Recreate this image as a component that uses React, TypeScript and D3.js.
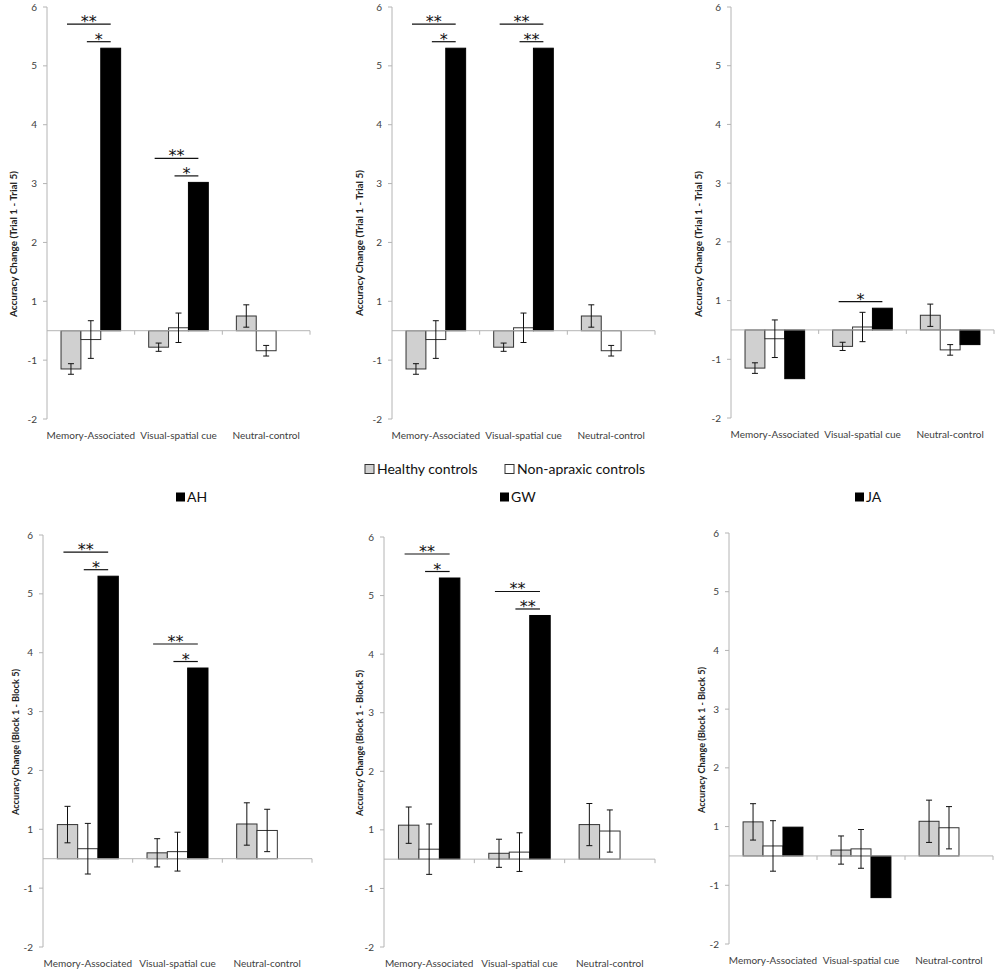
import React from 'react';
import * as d3 from 'd3';

const CATEGORIES = ['Memory-Associated', 'Visual-spatial cue', 'Neutral-control'];
const SERIES = ['Healthy controls', 'Non-apraxic controls', 'Patient'];

// the y axis of the original is offset by half a unit: the zero line sits between "1" and "-1"
const Y_TICK_VALUES = [5.5, 4.5, 3.5, 2.5, 1.5, 0.5, -0.5, -1.5];
const Y_TICK_LABELS = ['6', '5', '4', '3', '2', '1', '-1', '-2'];

const TRIAL_LABEL = 'Accuracy Change (Trial 1 - Trial 5)';
const BLOCK_LABEL = 'Accuracy Change (Block 1 - Block 5)';

// controls, trial measure
const TRIAL_HEALTHY = [-0.65, -0.28, 0.25];
const TRIAL_HEALTHY_ERR = [0.09, 0.07, 0.19];
const TRIAL_NONAPRAXIC = [-0.15, 0.05, -0.34];
const TRIAL_NONAPRAXIC_ERR = [0.32, 0.25, 0.09];

// controls, block measure
const BLOCK_HEALTHY = [0.58, 0.1, 0.59];
const BLOCK_HEALTHY_ERR = [0.31, 0.24, 0.36];
const BLOCK_NONAPRAXIC = [0.17, 0.12, 0.48];
const BLOCK_NONAPRAXIC_ERR = [0.43, 0.33, 0.36];

// patients
const TRIAL_AH = [4.8, 2.52, 0];
const TRIAL_GW = [4.8, 4.8, 0];
const TRIAL_JA = [-0.83, 0.37, -0.25];
const BLOCK_AH = [4.8, 3.24, 0];
const BLOCK_GW = [4.8, 4.16, 0];
const BLOCK_JA = [0.49, -0.71, 0];

type Sig = { cat: number; from: number; stars: string; tier: number };

const TRIAL_AH_SIG: Sig[] = [
  { cat: 0, from: 0, stars: '**', tier: 1 },
  { cat: 0, from: 1, stars: '*', tier: 0 },
  { cat: 1, from: 0, stars: '**', tier: 1 },
  { cat: 1, from: 1, stars: '*', tier: 0 }
];
const TRIAL_GW_SIG: Sig[] = [
  { cat: 0, from: 0, stars: '**', tier: 1 },
  { cat: 0, from: 1, stars: '*', tier: 0 },
  { cat: 1, from: 0, stars: '**', tier: 1 },
  { cat: 1, from: 1, stars: '**', tier: 0 }
];
const TRIAL_JA_SIG: Sig[] = [{ cat: 1, from: 0, stars: '*', tier: 0 }];
const BLOCK_AH_SIG: Sig[] = TRIAL_AH_SIG;
const BLOCK_GW_SIG: Sig[] = TRIAL_GW_SIG;
const BLOCK_JA_SIG: Sig[] = [];

const PANELS = [
  { patient: TRIAL_AH, sig: TRIAL_AH_SIG, healthy: TRIAL_HEALTHY, healthyErr: TRIAL_HEALTHY_ERR, nonap: TRIAL_NONAPRAXIC, nonapErr: TRIAL_NONAPRAXIC_ERR, yLabel: TRIAL_LABEL },
  { patient: TRIAL_GW, sig: TRIAL_GW_SIG, healthy: TRIAL_HEALTHY, healthyErr: TRIAL_HEALTHY_ERR, nonap: TRIAL_NONAPRAXIC, nonapErr: TRIAL_NONAPRAXIC_ERR, yLabel: TRIAL_LABEL },
  { patient: TRIAL_JA, sig: TRIAL_JA_SIG, healthy: TRIAL_HEALTHY, healthyErr: TRIAL_HEALTHY_ERR, nonap: TRIAL_NONAPRAXIC, nonapErr: TRIAL_NONAPRAXIC_ERR, yLabel: TRIAL_LABEL },
  { patient: BLOCK_AH, sig: BLOCK_AH_SIG, healthy: BLOCK_HEALTHY, healthyErr: BLOCK_HEALTHY_ERR, nonap: BLOCK_NONAPRAXIC, nonapErr: BLOCK_NONAPRAXIC_ERR, yLabel: BLOCK_LABEL },
  { patient: BLOCK_GW, sig: BLOCK_GW_SIG, healthy: BLOCK_HEALTHY, healthyErr: BLOCK_HEALTHY_ERR, nonap: BLOCK_NONAPRAXIC, nonapErr: BLOCK_NONAPRAXIC_ERR, yLabel: BLOCK_LABEL },
  { patient: BLOCK_JA, sig: BLOCK_JA_SIG, healthy: BLOCK_HEALTHY, healthyErr: BLOCK_HEALTHY_ERR, nonap: BLOCK_NONAPRAXIC, nonapErr: BLOCK_NONAPRAXIC_ERR, yLabel: BLOCK_LABEL }
];

// pixel layout of each panel
const LAYOUT = [
  { x: 47, w: 263, top: 7, bottom: 419, labelX: 13, labelY: 244 },
  { x: 392, w: 263, top: 7, bottom: 419, labelX: 359, labelY: 243 },
  { x: 731, w: 263, top: 7, bottom: 418, labelX: 698, labelY: 244 },
  { x: 43, w: 269, top: 535, bottom: 947, labelX: 15, labelY: 742 },
  { x: 384, w: 271, top: 537, bottom: 947, labelX: 359, labelY: 743 },
  { x: 729, w: 264, top: 533, bottom: 944, labelX: 701, labelY: 740 }
];

const LEGEND_TOP = [
  { name: 'Healthy controls', fill: '#d0d0d0', x: 365, y: 469 },
  { name: 'Non-apraxic controls', fill: '#ffffff', x: 505, y: 469 }
];
const LEGEND_PATIENTS = [
  { name: 'AH', x: 176, y: 497 },
  { name: 'GW', x: 500, y: 497 },
  { name: 'JA', x: 855, y: 497 }
];

const FILLS = ['#d0d0d0', '#ffffff', '#000000'];
const FONT = 'Lato, "Open Sans", sans-serif';
const AXIS = '#b4b4b4';
const TEXT = '#404040';

function Panel({ p, l }: { p: typeof PANELS[number]; l: typeof LAYOUT[number] }) {
  const x0 = d3.scaleBand().domain(CATEGORIES).range([l.x, l.x + l.w]).paddingInner(0.32).paddingOuter(0.16);
  const x1 = d3.scaleBand().domain(SERIES).range([0, x0.bandwidth()]);
  const y = d3.scaleLinear().domain([-1.5, 5.5]).range([l.bottom, l.top]);
  const bw = x1.bandwidth();

  const rows = CATEGORIES.map((c, i) => ({
    cat: c,
    vals: [p.healthy[i], p.nonap[i], p.patient[i]],
    errs: [p.healthyErr[i], p.nonapErr[i], 0]
  }));

  return (
    <g>
      {/* y axis */}
      <line x1={l.x} x2={l.x} y1={y(5.5)} y2={y(-1.5)} stroke={AXIS} />
      {Y_TICK_VALUES.map((v, i) => (
        <g key={i}>
          <line x1={l.x - 4} x2={l.x} y1={y(v)} y2={y(v)} stroke={AXIS} />
          <text x={l.x - 10} y={y(v)} dy="0.35em" textAnchor="end" fontSize={10} fill={TEXT} fontFamily={FONT}>
            {Y_TICK_LABELS[i]}
          </text>
        </g>
      ))}
      <text
        transform={`translate(${l.labelX},${l.labelY}) rotate(-90)`}
        textAnchor="middle"
        dominantBaseline="central"
        fontSize={9}
        fontWeight="bold"
        fill="#222"
        fontFamily={FONT}
        textLength={146}
        lengthAdjust="spacingAndGlyphs"
      >
        {p.yLabel}
      </text>

      {/* bars */}
      {rows.map((r) => {
        const gx = x0(r.cat)!;
        return (
          <g key={r.cat}>
            {r.vals.map((v, si) => {
              if (v === 0) return null;
              const bx = gx + x1(SERIES[si])!;
              return (
                <rect
                  key={si}
                  x={bx}
                  y={Math.min(y(v), y(0))}
                  width={bw}
                  height={Math.abs(y(v) - y(0))}
                  fill={FILLS[si]}
                  stroke={si === 2 ? '#000' : '#333'}
                  strokeWidth={1}
                />
              );
            })}
          </g>
        );
      })}

      {/* x axis */}
      <line x1={l.x} x2={l.x + l.w} y1={y(0)} y2={y(0)} stroke={AXIS} />
      {[1, 2, 3].map((k) => (
        <line key={k} x1={l.x + k * (l.w / 3)} x2={l.x + k * (l.w / 3)} y1={y(0)} y2={y(0) + 4} stroke={AXIS} />
      ))}
      {CATEGORIES.map((c) => (
        <text key={c} x={x0(c)! + x0.bandwidth() / 2} y={l.bottom + 16} dy="0.35em" textAnchor="middle" fontSize={10} fill={TEXT} fontFamily={FONT}>
          {c}
        </text>
      ))}

      {/* error bars */}
      {rows.map((r) => {
        const gx = x0(r.cat)!;
        return r.errs.map((e, si) => {
          if (!e) return null;
          const cx = gx + x1(SERIES[si])! + bw / 2;
          const v = r.vals[si];
          return (
            <g key={r.cat + si} stroke="#111" strokeWidth={1}>
              <line x1={cx} x2={cx} y1={y(v + e)} y2={y(v - e)} />
              <line x1={cx - 3} x2={cx + 3} y1={y(v + e)} y2={y(v + e)} />
              <line x1={cx - 3} x2={cx + 3} y1={y(v - e)} y2={y(v - e)} />
            </g>
          );
        });
      })}

      {/* significance markers */}
      {p.sig.map((s, i) => {
        const gx = x0(CATEGORIES[s.cat])!;
        const xa = gx + x1(SERIES[s.from])! + bw * 0.3;
        const xb = gx + x1(SERIES[2])! + bw / 2;
        const ly = y(p.patient[s.cat]) - 6.5 - s.tier * 17.5;
        return (
          <g key={i}>
            <line x1={xa} x2={xb} y1={ly} y2={ly} stroke="#111" strokeWidth={1.2} />
            <text x={(xa + xb) / 2} y={ly + 3} textAnchor="middle" fontSize={16} fill="#111" fontFamily='"DejaVu Sans", sans-serif'>
              {s.stars}
            </text>
          </g>
        );
      })}
    </g>
  );
}

export default function App() {
  return (
    <svg width={1000} height={972} style={{ position: 'absolute', left: 0, top: 0, background: '#fff' }}>
      <rect width={1000} height={972} fill="#fff" />
      {PANELS.map((p, i) => (
        <Panel key={i} p={p} l={LAYOUT[i]} />
      ))}
      {LEGEND_TOP.map((d) => (
        <g key={d.name}>
          <rect x={d.x} y={d.y - 4.5} width={9} height={9} fill={d.fill} stroke="#333" />
          <text x={d.x + 12} y={d.y} dy="0.35em" fontSize={14} fill="#111" fontFamily={FONT}>
            {d.name}
          </text>
        </g>
      ))}
      {LEGEND_PATIENTS.map((d) => (
        <g key={d.name}>
          <rect x={d.x} y={d.y - 4.5} width={9} height={9} fill="#000" />
          <text x={d.x + 11} y={d.y} dy="0.35em" fontSize={14} fill="#111" fontFamily={FONT}>
            {d.name}
          </text>
        </g>
      ))}
    </svg>
  );
}
